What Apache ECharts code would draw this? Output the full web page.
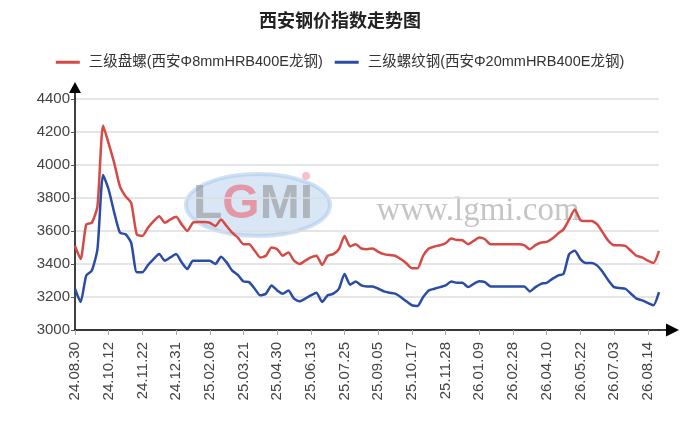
<!DOCTYPE html>
<html>
<head>
<meta charset="utf-8">
<script src="https://cdn.jsdelivr.net/npm/echarts@6/dist/echarts.min.js"></script>
<style>
html,body{margin:0;padding:0;background:#fff;}
#chart{width:680px;height:431px;}
</style>
</head>
<body>
<div id="chart"></div>
<script>
// Tick labels (shown every 6th weekly point)
const tickLabels = ['24.08.30','24.10.12','24.11.22','24.12.31','25.02.08','25.03.21','25.04.30','25.06.13','25.07.25','25.09.05','25.10.17','25.11.28','26.01.09','26.02.28','26.04.10','26.05.22','26.07.03','26.08.14'];
const seriesNames = ['三级盘螺(西安Φ8mmHRB400E龙钢)', '三级螺纹钢(西安Φ20mmHRB400E龙钢)'];
// 三级盘螺 (weekly readings)
const panluo = [3510,3430,3640,3650,3750,4240,4130,4010,3870,3810,3770,3580,3570,3620,3660,3690,3650,3670,3686,3640,3600,3650,3654,3654,3650,3630,3670,3630,3590,3560,3520,3520,3480,3440,3450,3500,3490,3450,3470,3420,3400,3420,3440,3450,3394,3450,3460,3490,3570,3506,3520,3494,3490,
3494,3474,3460,3454,3450,3430,3404,3374,3374,3450,3494,3506,3514,3526,3554,3546,3544,3520,3540,3560,3550,3520,3520,3520,3520,3520,3520,3514,3490,3514,3530,3534,3554,3584,3610,3670,3730,3666,3660,3660,3640,3590,3540,3514,3514,3510,3480,3450,3440,3420,3406,3480];
// 三级螺纹钢 (weekly readings)
const luowen = [3250,3170,3330,3360,3490,3940,3850,3710,3590,3580,3530,3350,3350,3394,3430,3460,3420,3440,3460,3410,3370,3420,3420,3420,3420,3400,3444,3410,3360,3334,3294,3290,3250,3210,3220,3270,3240,3220,3240,3190,3174,3190,3210,3226,3170,3210,3220,3250,3340,3274,3294,3270,3264,
3264,3250,3234,3226,3220,3200,3174,3150,3146,3200,3240,3250,3260,3270,3294,3286,3286,3260,3280,3296,3290,3264,3264,3264,3264,3264,3264,3264,3234,3260,3280,3286,3310,3330,3340,3460,3480,3430,3406,3406,3390,3350,3300,3260,3254,3250,3220,3190,3180,3164,3150,3230];

// Build category dates: tick label dates with intermediate weekly dates
function parseD(s){const p=s.split('.');return new Date(2000+ +p[0], +p[1]-1, +p[2]);}
function fmt(d){const y=String(d.getFullYear()%100).padStart(2,'0');return y+'.'+String(d.getMonth()+1).padStart(2,'0')+'.'+String(d.getDate()).padStart(2,'0');}
const categories = [];
for (let t = 0; t < tickLabels.length; t++) {
  categories.push(tickLabels[t]);
  const d0 = parseD(tickLabels[t]);
  const d1 = t + 1 < tickLabels.length ? parseD(tickLabels[t+1]) : null;
  const steps = d1 ? 5 : (panluo.length - categories.length);
  for (let k = 1; k <= steps && categories.length < panluo.length; k++) {
    const days = d1 ? Math.round(k * (d1 - d0) / 86400000 / 6) : 7 * k;
    const d = new Date(d0.getTime()); d.setDate(d.getDate() + days);
    categories.push(fmt(d));
  }
}

const FONT = '"Liberation Sans", Arial, "Noto Sans CJK SC", sans-serif';
const chart = echarts.init(document.getElementById('chart'), null, {renderer: 'canvas'});
const yArrow = 'path://M0,0 L6,11 L0.75,11 L0.75,17 L-0.75,17 L-0.75,11 L-6,11 Z';
const xArrow = 'path://M0,0 L6.5,13 L0.75,13 L0.75,20 L-0.75,20 L-0.75,13 L-6.5,13 Z';

chart.setOption({
  backgroundColor: '#fff',
  animation: false,
  title: {
    text: '西安钢价指数走势图',
    left: 'center',
    top: 8,
    textStyle: {fontFamily: FONT, fontSize: 18, fontWeight: 'bold', color: '#222'}
  },
  legend: {
    top: 50,
    left: 'center',
    itemWidth: 24,
    itemHeight: 3,
    itemGap: 12,
    icon: 'rect',
    textStyle: {fontFamily: FONT, fontSize: 14.5, color: '#333', padding: [0, 0, 0, 4]},
    data: seriesNames
  },
  grid: {left: 75, right: 21, top: 99, bottom: 101, containLabel: false},
  graphic: [
    {type: 'ellipse', z: 0, shape: {cx: 258, cy: 205, rx: 72, ry: 31},
     style: {fill: 'rgba(170,200,235,0.45)', stroke: 'rgba(170,200,235,0.55)', lineWidth: 4}},
    {type: 'circle', z: 0, shape: {cx: 306, cy: 176, r: 4}, style: {fill: 'rgba(240,150,165,0.6)'}},
    {type: 'text', z: 0, x: 253, y: 205,
     style: {text: '{a|L}{b|G}{a|MI}', align: 'center', verticalAlign: 'middle',
       rich: {
         a: {fontFamily: FONT, fontSize: 48, fontWeight: 'bold', fill: 'rgba(140,140,140,0.55)', color: 'rgba(140,140,140,0.55)'},
         b: {fontFamily: FONT, fontSize: 48, fontWeight: 'bold', fill: 'rgba(235,100,115,0.6)', color: 'rgba(235,100,115,0.6)'}
       }}},
    {type: 'text', z: 0, x: 478, y: 211,
     style: {text: 'www.lgmi.com', align: 'center', verticalAlign: 'middle',
       font: '33px "Liberation Serif", "DejaVu Serif", serif', fill: 'rgba(150,150,150,0.55)'}}
  ],
  xAxis: {
    type: 'category',
    data: categories,
    boundaryGap: false,
    axisLine: {show: true, symbol: ['none', xArrow], symbolSize: [13, 20], symbolOffset: [0, 10],
      lineStyle: {color: '#000', width: 1.5}},
    axisTick: {show: true, interval: 5, length: 5, lineStyle: {color: '#aaa'}},
    axisLabel: {interval: 5, rotate: 90, margin: 12, fontFamily: FONT, fontSize: 15, color: '#444'},
    splitLine: {show: false}
  },
  yAxis: {
    type: 'value',
    min: 3000, max: 4400, interval: 200,
    axisLine: {show: true, symbol: ['none', yArrow], symbolSize: [12, 17], symbolOffset: [0, 8.5],
      lineStyle: {color: '#000', width: 1.5}},
    axisTick: {show: true, length: 4, lineStyle: {color: '#555'}},
    axisLabel: {margin: 5, fontFamily: FONT, fontSize: 15, color: '#444', formatter: function (v) { return String(v); }},
    splitLine: {show: true, lineStyle: {color: '#dcdcdc', width: 1.5}}
  },
  series: [
    {name: seriesNames[0], type: 'line', data: panluo, smooth: 0.2, showSymbol: false, z: 3,
     color: '#d64a46', lineStyle: {color: '#d64a46', width: 2.5}},
    {name: seriesNames[1], type: 'line', data: luowen, smooth: 0.2, showSymbol: false, z: 3,
     color: '#2a4ca5', lineStyle: {color: '#2a4ca5', width: 2.5}}
  ]
});
</script>
</body>
</html>
